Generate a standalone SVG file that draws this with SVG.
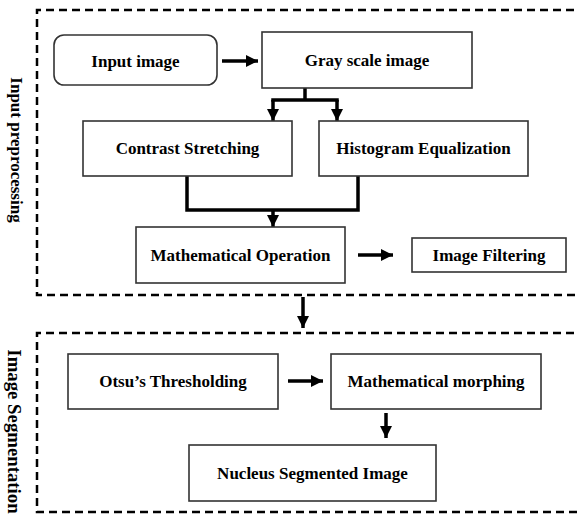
<svg xmlns="http://www.w3.org/2000/svg" width="577" height="518" viewBox="0 0 577 518">
<defs>
<style>
.box{fill:#fff;stroke:#333;stroke-width:1.6}
.sec{fill:none;stroke:#000;stroke-width:2.5;stroke-dasharray:8 5}
.t{font-family:"Liberation Serif","Times New Roman",serif;font-weight:bold;font-size:17px;text-anchor:middle;dominant-baseline:central;fill:#000}
.c{fill:none;stroke:#000;stroke-width:3.5}
.a{fill:none;stroke:#000;stroke-width:3.5;marker-end:url(#ah)}
</style>
<marker id="ah" markerUnits="userSpaceOnUse" markerWidth="14" markerHeight="12" refX="12" refY="6" orient="auto">
<path d="M0,0 L12,6 L0,12 z" fill="#000"/>
</marker>
</defs>
<g id="section-preprocessing">
<path class="sec" d="M600,10 H37 V295 H600"/>
<text class="t" transform="translate(16,150) rotate(90)">Input preprocessing</text>
</g>
<g id="section-segmentation">
<path class="sec" d="M600,333 H37 V512 H600"/>
<text class="t" style="font-size:18.8px" transform="translate(14,431.5) rotate(90)">Image Segmentation</text>
</g>
<g id="connectors">
<path class="a" d="M222,61 H258"/>
<path class="c" d="M305,88 V100 M271.25,100 H338.75"/>
<path class="a" d="M273,100 V121"/>
<path class="a" d="M337,100 V121"/>
<path class="c" d="M187,176 V210 H358 V176"/>
<path class="a" d="M273,210 V227"/>
<path class="a" d="M358,255 H393"/>
<path class="a" d="M303,297 V328"/>
<path class="a" d="M288,381 H323"/>
<path class="a" d="M386,413 V438"/>
</g>
<g id="input-image">
<rect class="box" x="54" y="35" width="163" height="50" rx="10"/>
<text class="t" x="135.5" y="61">Input image</text>
</g>
<g id="gray-scale-image">
<rect class="box" x="262" y="32" width="210" height="56"/>
<text class="t" x="367" y="60">Gray scale image</text>
</g>
<g id="contrast-stretching">
<rect class="box" x="83" y="121" width="209" height="55"/>
<text class="t" x="187.5" y="148.5">Contrast Stretching</text>
</g>
<g id="histogram-equalization">
<rect class="box" x="319" y="121" width="209" height="55"/>
<text class="t" x="423.5" y="148.5">Histogram Equalization</text>
</g>
<g id="mathematical-operation">
<rect class="box" x="136" y="227" width="209" height="56"/>
<text class="t" x="240.5" y="255">Mathematical Operation</text>
</g>
<g id="image-filtering">
<rect class="box" x="412" y="238" width="154" height="34"/>
<text class="t" x="489" y="255">Image Filtering</text>
</g>
<g id="otsu-thresholding">
<rect class="box" x="68" y="354" width="210" height="55"/>
<text class="t" x="173" y="381.5">Otsu’s Thresholding</text>
</g>
<g id="mathematical-morphing">
<rect class="box" x="331" y="354" width="210" height="55"/>
<text class="t" x="436" y="381.5">Mathematical morphing</text>
</g>
<g id="nucleus-segmented-image">
<rect class="box" x="189" y="445" width="247" height="56"/>
<text class="t" x="312.5" y="473">Nucleus Segmented Image</text>
</g>
</svg>
